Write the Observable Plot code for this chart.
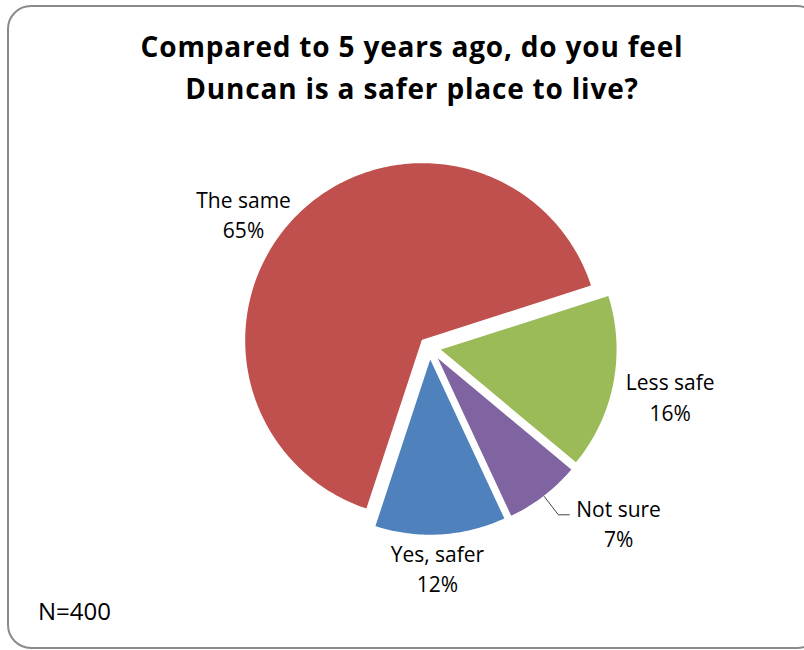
<!DOCTYPE html>
<html>
<head>
<meta charset="utf-8">
<script src="https://cdn.jsdelivr.net/npm/d3@7"></script>
<script src="https://cdn.jsdelivr.net/npm/@observablehq/plot@0.6"></script>
<style>
  html, body { margin: 0; padding: 0; background: #fff; }
  #wrap { position: relative; width: 804px; height: 650px; overflow: hidden; font-family: "Open Sans", Lato, sans-serif; }
  #frame { position: absolute; left: 7px; top: 5px; width: 810px; height: 640px; border: 2px solid #8a8a8a; border-radius: 24px; box-sizing: content-box; }
  #title { position: absolute; left: 0; width: 824px; top: 25px; text-align: center; font-weight: 700; font-size: 28px; letter-spacing: 0.8px; line-height: 42px; color: #000; }
  #note { position: absolute; left: 38px; top: 594px; font-size: 24px; color: #000; }
  #chart { position: absolute; left: 0; top: 0; }
</style>
</head>
<body>
<div id="wrap">
  <div id="frame"></div>
  <div id="chart"></div>
  <div id="title">Compared to 5 years ago, do you feel<br>Duncan is a safer place to live?</div>
  <div id="note">N=400</div>
</div>
<script>
// ---- data ----
const categories = ["Yes, safer", "The same", "Less safe", "Not sure"];
const shares = [12, 65, 16, 7];
const valueLabels = ["12%", "65%", "16%", "7%"];
const colors = ["#4F81BD", "#C0504D", "#9BBB59", "#8064A2"];

// ---- layout (not data) ----
const W = 804, H = 650;
const cx = 429, cy = 347, R = 178;      // pie centre and radius in px
const startDeg = 155;                    // first slice angle (clockwise from 12 o'clock)
const explode = 10 / R;                  // slice explosion, radius units
// label placement: angle (deg) and distance (radius units) from each exploded slice vertex
const labelAngle = [178, 305.4, 101.3, 132.4];
const labelDist = [1.18, 1.233, 1.323, 1.392];
const leaderFor = "Not sure";

const rad = d => d * Math.PI / 180;
const arcs = d3.pie().sort(null)
  .startAngle(rad(startDeg)).endAngle(rad(startDeg) + 2 * Math.PI)(shares);

const polar = (a, r, ox = 0, oy = 0) => [ox + r * Math.sin(a), oy + r * Math.cos(a)];

const slicePts = [];
const labels = [];
const leader = [];
arcs.forEach((a, i) => {
  const mid = (a.startAngle + a.endAngle) / 2;
  const [ox, oy] = polar(mid, explode);
  const cat = categories[i];
  slicePts.push({category: cat, x: ox, y: oy});
  const n = Math.max(2, Math.ceil((a.endAngle - a.startAngle) / rad(1)));
  for (let k = 0; k <= n; k++) {
    const t = a.startAngle + (a.endAngle - a.startAngle) * k / n;
    const [x, y] = polar(t, 1, ox, oy);
    slicePts.push({category: cat, x, y});
  }
  const [lx, ly] = polar(rad(labelAngle[i]), labelDist[i], ox, oy);
  labels.push({category: cat, x: lx, y: ly, text: cat + "\n" + valueLabels[i]});
  if (cat === leaderFor) {
    const [x1, y1] = polar(mid, 1, ox, oy);
    const [x2, y2] = polar(mid, 1.13, ox, oy);
    leader.push({x: x1, y: y1}, {x: x2, y: y2}, {x: x2 + 11 / R, y: y2});
  }
});

const chart = Plot.plot({
  width: W, height: H,
  margin: 0,
  x: {domain: [-cx / R, (W - cx) / R], range: [0, W], axis: null},
  y: {domain: [-(H - cy) / R, cy / R], range: [H, 0], axis: null},
  color: {domain: categories, range: colors},
  style: {background: "transparent", fontFamily: "'Open Sans', Lato, sans-serif"},
  marks: [
    Plot.line(slicePts, {x: "x", y: "y", z: "category", fill: "category", stroke: "white", strokeWidth: 1.5, curve: "linear-closed"}),
    Plot.line(leader, {x: "x", y: "y", stroke: "#444", strokeWidth: 1}),
    Plot.text(labels, {x: "x", y: "y", text: "text", fontSize: 21, lineHeight: 1.45, fill: "#000", textAnchor: "middle"})
  ]
});
document.getElementById("chart").appendChild(chart);
</script>
</body>
</html>
